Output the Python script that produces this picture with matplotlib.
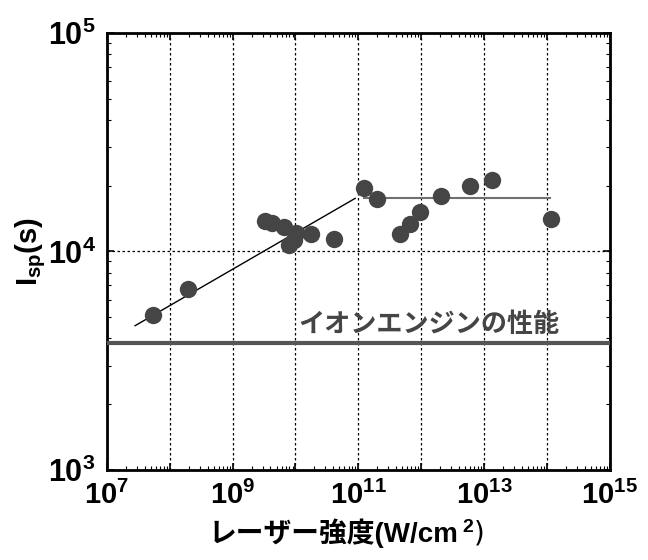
import numpy as np
import matplotlib
matplotlib.use('Agg')
import matplotlib.pyplot as plt
from matplotlib.ticker import LogLocator, FuncFormatter, NullFormatter

plt.rcParams['font.family'] = ['Liberation Sans', 'Noto Sans CJK JP', 'DejaVu Sans']
plt.rcParams['mathtext.fontset'] = 'custom'
plt.rcParams['mathtext.rm'] = 'Liberation Sans:bold'
plt.rcParams['mathtext.bf'] = 'Liberation Sans:bold'
plt.rcParams['mathtext.it'] = 'Liberation Sans:bold'

# laser intensity (W/cm2) and specific impulse (s)
intensity = [5.4e7, 1.93e8, 3.26e9, 4.26e9, 6.5e9, 1.02e10, 7.8e9, 9.5e9,
             1.78e10, 4.17e10, 1.22e11, 1.95e11, 4.6e11, 6.6e11, 9.6e11,
             2.04e12, 6.0e12, 1.32e13, 1.15e14]
isp = [5.12e3, 6.71e3, 1.38e4, 1.35e4, 1.29e4, 1.21e4, 1.07e4, 1.13e4,
       1.2e4, 1.14e4, 1.95e4, 1.73e4, 1.2e4, 1.33e4, 1.51e4,
       1.8e4, 1.99e4, 2.13e4, 1.41e4]

# fitted trend lines
fit_x = [2.8e7, 8.9e10]
fit_y = [4.57e3, 1.75e4]
flat_x = [1.25e11, 1.12e14]
flat_y = [1.75e4, 1.75e4]

# ion engine reference level
ion_engine = 3.8e3

fig = plt.figure(figsize=(6.48, 5.6), dpi=100)
ax = fig.add_axes([0.165, 0.161, 0.776, 0.780])

ax.set_xscale('log')
ax.set_yscale('log')
ax.set_xlim(1e7, 1e15)
ax.set_ylim(1e3, 1e5)

ax.plot(fit_x, fit_y, color='black', lw=1.0, zorder=3)
ax.plot(flat_x, flat_y, color='#707070', lw=1.5, zorder=3)
ax.axhline(ion_engine, color='#555555', lw=3, zorder=3)
ax.plot(intensity, isp, 'o', color='#454545', ms=12.5, mec='none', zorder=4)

ax.text(1.12e10, 4.62e3, 'イオンエンジンの性能', fontsize=18.8, fontweight='bold',
        color='#454545', va='center', ha='left',
        family=['Noto Sans CJK JP', 'DejaVu Sans'], zorder=5)

ax.xaxis.set_major_locator(LogLocator(base=10, numticks=20))
ax.xaxis.set_minor_locator(LogLocator(base=10, subs=np.arange(2, 10), numticks=100))
ax.yaxis.set_major_locator(LogLocator(base=10, numticks=20))
ax.yaxis.set_minor_locator(LogLocator(base=10, subs=np.arange(2, 10), numticks=100))


def xfmt(v, pos):
    e = int(round(np.log10(v)))
    if e % 2 == 1:
        return r'$\mathbf{10^{%d}}$' % e
    return ''


def yfmt(v, pos):
    e = int(round(np.log10(v)))
    return r'$\mathbf{10^{%d}}$' % e


ax.xaxis.set_major_formatter(FuncFormatter(xfmt))
ax.yaxis.set_major_formatter(FuncFormatter(yfmt))
ax.xaxis.set_minor_formatter(NullFormatter())
ax.yaxis.set_minor_formatter(NullFormatter())

ax.tick_params(which='both', direction='in', top=True, right=True)
ax.tick_params(axis='y', labelsize=22)
ax.tick_params(axis='x', labelsize=21)
ax.tick_params(which='major', length=5, width=1.2, pad=8)
ax.tick_params(which='minor', length=3, width=0.8)

ax.grid(True, which='major', ls=(0, (2, 2)), color='black', lw=0.9)
for s in ax.spines.values():
    s.set_linewidth(2)

ax.set_ylabel(r'$\mathbf{I_{sp}(s)}$', fontsize=21, labelpad=0)

xl = ax.set_xlabel('レーザー強度(W/cm', fontsize=20, fontweight='bold', labelpad=6)
xl.set_x(0.45)
ax.annotate(r'$^{2}$)', xy=(1, 0), xycoords=xl, xytext=(3, 0),
            textcoords='offset points', fontsize=20, va='bottom', ha='left',
            family=['DejaVu Sans'], annotation_clip=False)

fig.savefig('out.png', dpi=100)
